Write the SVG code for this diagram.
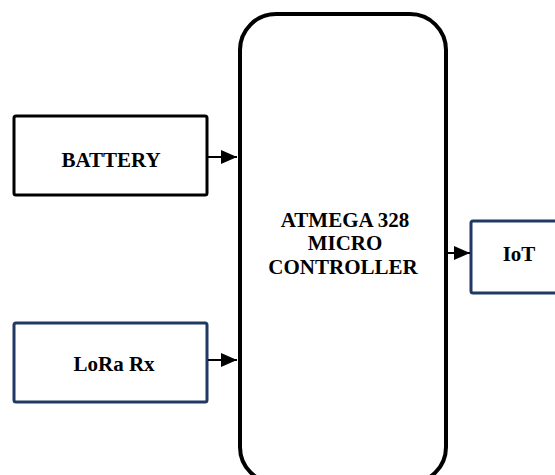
<svg xmlns="http://www.w3.org/2000/svg" width="555" height="475" viewBox="0 0 555 475">
<defs>
<style>
.box{fill:#fff;stroke-width:3}
.blk{stroke:#000}
.nav{stroke:#203864}
.lbl{font-family:"Liberation Serif","Times New Roman",serif;font-weight:bold;font-size:21px;fill:#000;text-anchor:middle}
.conn{stroke:#000;stroke-width:2;fill:none}
</style>
<marker id="ah" markerWidth="16" markerHeight="14" refX="16" refY="7" orient="auto" markerUnits="userSpaceOnUse">
<path d="M0,0 L16,7 L0,14 Z" fill="#000"/>
</marker>
</defs>
<g id="battery">
<rect class="box blk" x="14" y="116" width="193" height="79" rx="2"/>
<text class="lbl" x="111" y="167">BATTERY</text>
</g>
<g id="lora">
<rect class="box nav" x="14" y="323" width="193" height="79" rx="2"/>
<text class="lbl" x="114" y="371">LoRa Rx</text>
</g>
<g id="mcu">
<rect x="240" y="14" width="206" height="469" rx="36" fill="#fff" stroke="#000" stroke-width="4"/>
<text class="lbl" x="345" y="227">ATMEGA 328</text>
<text class="lbl" x="345" y="250">MICRO</text>
<text class="lbl" x="343" y="274">CONTROLLER</text>
</g>
<g id="iot">
<rect class="box nav" x="471" y="221" width="100" height="72" rx="2"/>
<text class="lbl" x="519" y="261">IoT</text>
</g>
<g id="connectors">
<line class="conn" x1="208" y1="157" x2="237" y2="157" marker-end="url(#ah)"/>
<line class="conn" x1="208" y1="360" x2="237" y2="360" marker-end="url(#ah)"/>
<line class="conn" x1="448" y1="253" x2="470" y2="253" marker-end="url(#ah)"/>
</g>
</svg>
